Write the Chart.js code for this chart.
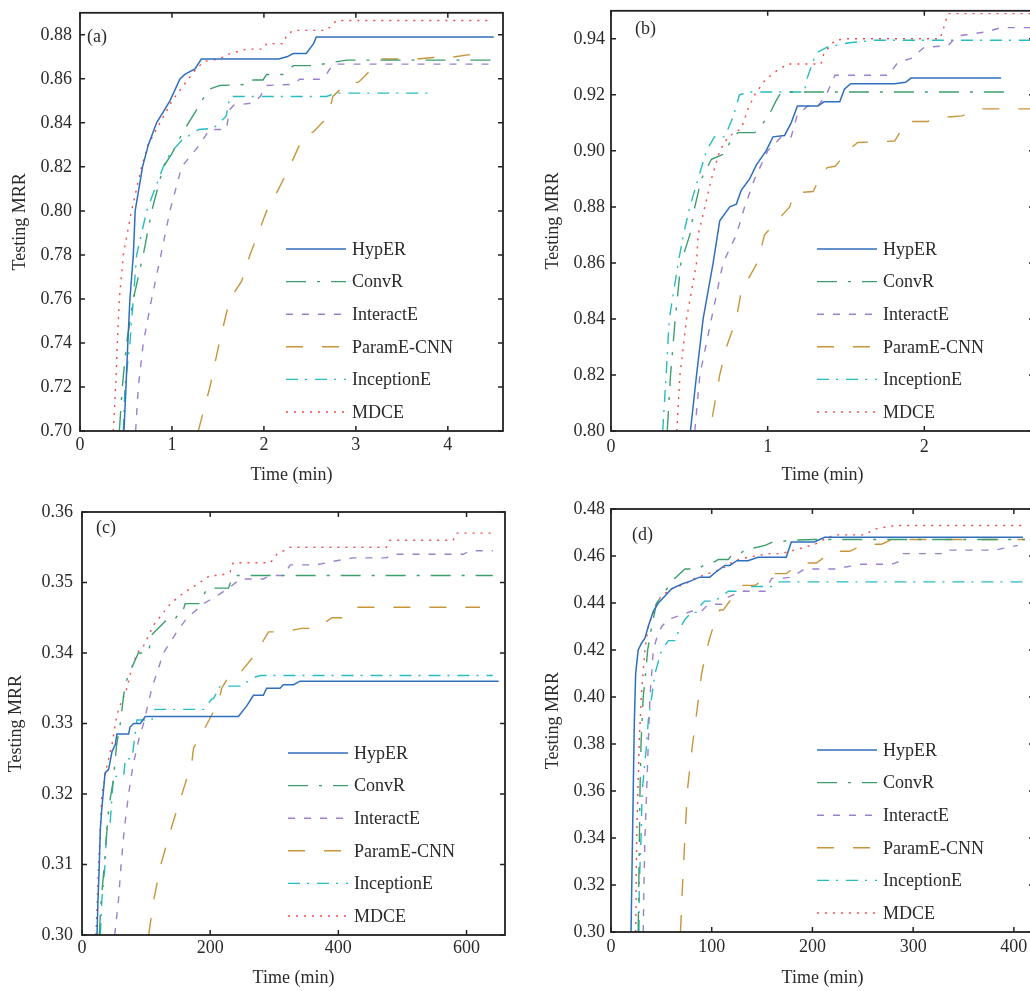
<!DOCTYPE html>
<html>
<head>
<meta charset="utf-8">
<script src="https://cdn.jsdelivr.net/npm/chart.js@4.4.0/dist/chart.umd.min.js"></script>
<style>
html, body { margin: 0; padding: 0; background: #fff; }
body { position: relative; width: 1030px; height: 991px; overflow: hidden; }
.panel { position: absolute; }
</style>
</head>
<body>
<div class="panel" style="left:0px;top:-6px"><canvas id="chartA" width="515" height="496"></canvas></div>
<div class="panel" style="left:531px;top:-6px"><canvas id="chartB" width="515" height="496"></canvas></div>
<div class="panel" style="left:2px;top:490px"><canvas id="chartC" width="515" height="501"></canvas></div>
<div class="panel" style="left:531px;top:490px"><canvas id="chartD" width="515" height="501"></canvas></div>
<script>
'use strict';

var seriesNames = ['HypER', 'ConvR', 'InteractE', 'ParamE-CNN', 'InceptionE', 'MDCE'];
var panelTags = ['(a)', '(b)', '(c)', '(d)'];
var xTitle = 'Time (min)';
var yTitle = 'Testing MRR';

// (a) [time, MRR]
var hyperA = [[0.478,0.70],[0.50,0.72],[0.52,0.74],[0.543,0.76],[0.58,0.78],[0.60,0.80],[0.68,0.82],[0.743,0.83],[0.833,0.84],[0.978,0.85],[1.087,0.86],[1.14,0.862],[1.25,0.8645],[1.32,0.869],[2.16,0.869],[2.25,0.870],[2.32,0.8715],[2.46,0.8715],[2.54,0.876],[2.57,0.879],[4.5,0.879]];
var convrA = [[0.428,0.70],[0.46,0.72],[0.507,0.74],[0.58,0.76],[0.688,0.78],[0.78,0.80],[0.906,0.82],[1.0,0.826],[1.07,0.832],[1.18,0.84],[1.30,0.848],[1.39,0.855],[1.52,0.857],[1.85,0.8575],[1.88,0.8595],[1.99,0.8595],[2.03,0.862],[2.21,0.862],[2.32,0.866],[2.54,0.866],[2.75,0.8675],[2.9,0.8685],[4.49,0.8685]];
var interactA = [[0.605,0.70],[0.634,0.72],[0.688,0.74],[0.779,0.76],[0.88,0.78],[0.978,0.80],[1.105,0.82],[1.30,0.83],[1.41,0.837],[1.59,0.837],[1.63,0.846],[1.67,0.848],[1.88,0.849],[1.96,0.852],[2.03,0.857],[2.32,0.8575],[2.39,0.8598],[2.61,0.8598],[2.68,0.862],[2.75,0.8667],[4.49,0.8667]];
var paramA = [[1.286,0.70],[1.413,0.72],[1.514,0.74],[1.63,0.76],[1.757,0.768],[1.848,0.78],[2.03,0.80],[2.16,0.81],[2.28,0.82],[2.43,0.834],[2.54,0.836],[2.70,0.843],[2.75,0.852],[2.90,0.858],[3.03,0.8585],[3.21,0.866],[3.26,0.869],[3.66,0.869],[3.84,0.8697],[4.02,0.8697],[4.24,0.871],[4.42,0.871]];
var inceptionA = [[0.471,0.70],[0.489,0.72],[0.543,0.74],[0.58,0.76],[0.616,0.78],[0.725,0.80],[0.815,0.81],[0.906,0.82],[0.978,0.826],[1.105,0.832],[1.29,0.837],[1.45,0.8375],[1.59,0.843],[1.63,0.852],[2.68,0.852],[2.79,0.8535],[3.82,0.8535]];
var mdceA = [[0.362,0.70],[0.388,0.72],[0.406,0.74],[0.428,0.76],[0.471,0.78],[0.56,0.80],[0.67,0.82],[0.74,0.83],[0.87,0.84],[1.0,0.85],[1.18,0.86],[1.27,0.865],[1.36,0.868],[1.52,0.869],[1.59,0.871],[1.81,0.8735],[1.99,0.8735],[2.03,0.876],[2.21,0.876],[2.25,0.880],[2.32,0.882],[2.68,0.882],[2.79,0.8865],[4.46,0.8865]];

// (b)
var hyperB = [[0.507,0.80],[0.546,0.82],[0.588,0.84],[0.62,0.85],[0.652,0.86],[0.694,0.875],[0.758,0.880],[0.80,0.881],[0.832,0.886],[0.885,0.890],[0.928,0.895],[0.99,0.900],[1.034,0.905],[1.108,0.9055],[1.15,0.910],[1.19,0.916],[1.32,0.916],[1.36,0.9175],[1.46,0.9175],[1.49,0.922],[1.53,0.924],[1.81,0.924],[1.88,0.9245],[1.915,0.926],[2.49,0.926]];
var convrB = [[0.359,0.80],[0.38,0.82],[0.41,0.84],[0.446,0.86],[0.503,0.87],[0.535,0.88],[0.577,0.89],[0.641,0.897],[0.726,0.899],[0.758,0.903],[0.81,0.9065],[0.917,0.9065],[0.96,0.909],[1.01,0.913],[1.055,0.918],[1.087,0.921],[2.57,0.921]];
var interactB = [[0.535,0.80],[0.567,0.82],[0.641,0.84],[0.715,0.86],[0.80,0.87],[0.853,0.88],[0.917,0.89],[1.0,0.90],[1.087,0.905],[1.15,0.905],[1.19,0.913],[1.257,0.916],[1.32,0.916],[1.374,0.920],[1.43,0.927],[1.77,0.927],[1.83,0.9315],[1.915,0.933],[2.0,0.937],[2.15,0.9375],[2.21,0.941],[2.40,0.9425],[2.49,0.944],[2.7,0.944]];
var paramB = [[0.647,0.805],[0.694,0.82],[0.737,0.83],[0.80,0.84],[0.832,0.85],[0.934,0.86],[0.98,0.87],[1.14,0.88],[1.17,0.885],[1.29,0.8855],[1.33,0.89],[1.38,0.894],[1.43,0.8945],[1.47,0.897],[1.51,0.900],[1.575,0.903],[1.81,0.9035],[1.86,0.908],[1.89,0.9105],[2.02,0.9105],[2.13,0.912],[2.24,0.9125],[2.36,0.915],[2.7,0.915]];
var inceptionB = [[0.33,0.80],[0.352,0.82],[0.372,0.84],[0.429,0.86],[0.462,0.87],[0.503,0.88],[0.556,0.89],[0.609,0.90],[0.66,0.905],[0.726,0.905],[0.779,0.912],[0.82,0.92],[0.875,0.921],[1.236,0.921],[1.246,0.925],[1.31,0.935],[1.38,0.937],[1.51,0.9385],[1.68,0.9395],[2.7,0.9395]];
var mdceB = [[0.42,0.80],[0.44,0.82],[0.482,0.84],[0.546,0.86],[0.556,0.87],[0.599,0.88],[0.641,0.89],[0.694,0.90],[0.747,0.905],[0.832,0.908],[0.875,0.915],[0.917,0.92],[0.98,0.925],[1.066,0.929],[1.13,0.931],[1.34,0.931],[1.36,0.935],[1.43,0.9395],[1.51,0.940],[2.10,0.940],[2.13,0.945],[2.15,0.949],[2.7,0.949]];

// (c)
var hyperC = [[23.4,0.30],[25,0.305],[27,0.31],[28.6,0.315],[31,0.318],[36,0.323],[41.6,0.3235],[46.8,0.326],[52,0.327],[54.5,0.3285],[72.7,0.3285],[75,0.3295],[80.5,0.330],[91,0.330],[98.7,0.331],[244,0.331],[257,0.3325],[267.5,0.334],[283,0.334],[288,0.335],[309,0.335],[314,0.3355],[330,0.3355],[340,0.336],[650,0.336]];
var convrC = [[27,0.30],[30,0.305],[35,0.31],[41.6,0.318],[49,0.322],[54,0.327],[59.7,0.33],[65,0.334],[69,0.336],[78,0.338],[88,0.34],[104,0.34],[108,0.3425],[130,0.3445],[143,0.3445],[150,0.3455],[156,0.3455],[161,0.347],[184,0.347],[195,0.3492],[228.5,0.3492],[236,0.351],[641,0.351]];
var interactC = [[51,0.30],[57,0.305],[61,0.31],[66,0.315],[72.7,0.32],[79.5,0.324],[88,0.3275],[96,0.33],[109,0.335],[127,0.34],[148,0.343],[164,0.345],[190,0.347],[226,0.349],[247,0.3505],[283,0.3505],[293.5,0.351],[314,0.351],[325,0.3525],[366,0.3525],[392,0.353],[423,0.3535],[475,0.3535],[486,0.354],[595,0.354],[605,0.3545],[641,0.3545]];
var paramC = [[104,0.30],[112,0.305],[123,0.31],[142,0.316],[156,0.32],[171.4,0.3245],[174,0.3265],[189.6,0.329],[213,0.333],[218,0.335],[231,0.337],[247,0.3372],[267.5,0.3395],[278,0.341],[291,0.343],[314,0.343],[343,0.3435],[366,0.3435],[390,0.345],[408,0.345],[428.6,0.3465],[621,0.3465]];
var inceptionC = [[28.6,0.30],[31,0.305],[36,0.31],[39,0.316],[44,0.316],[49,0.3225],[65,0.3225],[67.5,0.325],[78,0.325],[85.7,0.3305],[109,0.3305],[114,0.332],[190,0.332],[202.6,0.3335],[205,0.3335],[215.6,0.3353],[247,0.3353],[267.5,0.3365],[278,0.3368],[641,0.3368]];
var mdceC = [[21.8,0.30],[26,0.31],[31,0.32],[39,0.324],[46.8,0.327],[52,0.33],[57,0.332],[70,0.335],[78,0.338],[86,0.340],[96,0.341],[112,0.344],[138,0.347],[158,0.3485],[184,0.350],[200,0.351],[216,0.351],[231,0.3515],[236,0.3528],[294,0.3528],[304,0.354],[325,0.355],[475,0.355],[480.5,0.356],[579,0.356],[584,0.357],[641,0.357]];

// (d)
var hyperD = [[19.9,0.30],[22.8,0.38],[23.2,0.39],[24.5,0.41],[27,0.42],[30.4,0.423],[33.7,0.425],[37,0.43],[42,0.4365],[47,0.44],[53.6,0.443],[60,0.446],[70,0.448],[80,0.4495],[88,0.451],[98,0.451],[105,0.4535],[113,0.456],[118,0.456],[125,0.458],[136,0.458],[146,0.4595],[174,0.4595],[179,0.466],[202,0.466],[212,0.468],[409,0.468]];
var convrD = [[27,0.30],[28.8,0.36],[29.8,0.38],[32,0.40],[34.4,0.41],[36.4,0.42],[40.4,0.43],[45.3,0.44],[53.6,0.445],[63.5,0.4505],[73.4,0.4545],[86.7,0.4545],[90,0.4555],[98,0.4575],[103,0.4575],[106.5,0.4585],[116.5,0.4585],[120,0.4605],[129.7,0.4615],[136,0.4635],[143,0.4635],[153,0.4645],[161,0.466],[169,0.466],[176,0.4667],[202.5,0.467],[411,0.467]];
var interactD = [[32,0.30],[32.7,0.32],[33.7,0.34],[35.4,0.36],[37,0.38],[38.7,0.40],[40.4,0.41],[42,0.42],[45.3,0.425],[50.3,0.43],[57,0.433],[70,0.435],[80,0.4365],[90,0.4365],[96.6,0.4395],[110,0.4395],[116.5,0.4425],[129.7,0.445],[153,0.445],[159.5,0.4505],[169,0.4505],[179,0.451],[192.5,0.4545],[222,0.4545],[229,0.455],[249,0.4565],[278.6,0.4565],[285,0.4575],[290,0.461],[331.5,0.461],[335,0.4625],[381,0.4625],[404,0.4645]];
var paramD = [[69,0.30],[71,0.32],[73.4,0.34],[75.8,0.36],[81,0.38],[85,0.393],[90,0.41],[95,0.42],[98,0.425],[101.6,0.43],[108,0.437],[111.5,0.437],[116.5,0.44],[126,0.445],[131,0.4475],[143,0.4475],[161,0.4525],[174,0.4525],[184,0.4555],[191,0.457],[204,0.457],[215,0.4605],[222,0.462],[237,0.462],[252,0.465],[268.6,0.465],[278.6,0.467],[411,0.467]];
var inceptionD = [[27.8,0.30],[28.1,0.32],[29.8,0.34],[31,0.36],[35.4,0.38],[37,0.39],[40.4,0.40],[43.7,0.41],[50.3,0.42],[57,0.424],[63.5,0.424],[67,0.428],[73.4,0.433],[80,0.436],[85,0.436],[90,0.4395],[93,0.4408],[103,0.4408],[110,0.443],[116.5,0.445],[133,0.445],[136,0.447],[159.5,0.447],[166,0.449],[411,0.449]];
var mdceD = [[24.5,0.30],[25.5,0.34],[28,0.38],[30,0.40],[33.7,0.42],[37,0.43],[45.3,0.44],[50,0.443],[60,0.446],[73.4,0.448],[83,0.4505],[96.6,0.4525],[110,0.4545],[123,0.458],[136,0.4595],[156,0.461],[169,0.461],[186,0.463],[202.5,0.465],[209,0.4665],[216,0.468],[222,0.469],[252,0.469],[262,0.4715],[282,0.473],[411,0.473]];

var seriesColors = ['#2f6fbe', '#3c9f6b', '#9b80cf', '#c8953b', '#26bcc0', '#f04a4c'];
var seriesDash = [[], [20, 11, 3, 11], [7, 9], [17, 19], [12, 7, 2, 8], [2, 6]];

var textColor = '#2a2a2a';
var fontFamily = "'Liberation Serif', 'Times New Roman', serif";
Chart.defaults.font.family = fontFamily;
Chart.defaults.font.size = 18;
Chart.defaults.color = textColor;

// box frame with inward ticks, legend inside plot, panel tag
var framePlugin = {
    id: 'frame',
    afterDatasetsDraw: function(chart) {
        var ctx = chart.ctx;
        var a = chart.chartArea;
        var opts = chart.options.plugins.frame;
        ctx.save();
        ctx.strokeStyle = '#222';
        ctx.lineWidth = 1.8;
        ctx.setLineDash([]);
        ctx.strokeRect(a.left, a.top, a.right - a.left, a.bottom - a.top);
        ctx.lineWidth = 1.5;
        var xs = chart.scales.x, ys = chart.scales.y;
        xs.ticks.forEach(function(t) {
            var px = xs.getPixelForValue(t.value);
            ctx.beginPath();
            ctx.moveTo(px, a.bottom); ctx.lineTo(px, a.bottom - 5);
            ctx.moveTo(px, a.top); ctx.lineTo(px, a.top + 5);
            ctx.stroke();
        });
        ys.ticks.forEach(function(t) {
            var py = ys.getPixelForValue(t.value);
            ctx.beginPath();
            ctx.moveTo(a.left, py); ctx.lineTo(a.left + 5, py);
            ctx.moveTo(a.right, py); ctx.lineTo(a.right - 5, py);
            ctx.stroke();
        });

        // legend
        ctx.font = '18px ' + fontFamily;
        ctx.fillStyle = textColor;
        ctx.textBaseline = 'middle';
        ctx.textAlign = 'left';
        var n = chart.data.datasets.length;
        chart.data.datasets.forEach(function(ds, i) {
            var y = a.bottom - opts.legendBottom - (n - 1 - i) * 32.6;
            var x0 = a.left + opts.legendLeft;
            ctx.strokeStyle = ds.borderColor;
            ctx.lineWidth = ds.borderWidth;
            ctx.setLineDash(ds.borderDash);
            ctx.beginPath();
            ctx.moveTo(x0, y); ctx.lineTo(x0 + 60, y);
            ctx.stroke();
            ctx.fillText(ds.label, x0 + 66, y + 1);
        });

        ctx.fillText(opts.tag, a.left + opts.tagX, a.top + opts.tagY);
        ctx.restore();
    }
};

function makePanel(canvasId, tag, series, p) {
    var datasets = series.map(function(pts, i) {
        return {
            label: seriesNames[i],
            data: pts.map(function(q) { return {x: q[0], y: q[1]}; }),
            borderColor: seriesColors[i],
            borderWidth: i === 0 ? 1.5 : 1.4,
            borderDash: seriesDash[i],
            pointRadius: 0,
            fill: false,
            tension: 0
        };
    });
    return new Chart(document.getElementById(canvasId), {
        type: 'line',
        data: {datasets: datasets},
        options: {
            responsive: false,
            animation: false,
            events: [],
            layout: {padding: {top: p.padTop, right: 12, left: 0, bottom: 0}},
            plugins: {
                legend: {display: false},
                tooltip: {enabled: false},
                frame: {tag: tag, tagX: p.tagX, tagY: p.tagY, legendLeft: 206, legendBottom: 19}
            },
            scales: {
                x: {
                    type: 'linear',
                    min: 0,
                    max: p.xMax,
                    grid: {display: false, drawTicks: false},
                    border: {display: false},
                    ticks: {stepSize: p.xStep, includeBounds: false, padding: p.xPad, maxRotation: 0,
                        font: {size: 18}, color: textColor},
                    title: {display: true, text: xTitle, font: {size: 18}, color: textColor,
                        padding: {top: 0, bottom: p.xTitlePad}},
                    afterFit: function(s) { s.height = p.xh; }
                },
                y: {
                    min: p.yMin,
                    max: p.yMax,
                    grid: {display: false, drawTicks: false},
                    border: {display: false},
                    ticks: {stepSize: p.yStep, includeBounds: false, padding: p.yPad,
                        font: {size: 18}, color: textColor,
                        callback: function(v) { return v.toFixed(2); }},
                    title: {display: true, text: yTitle, font: {size: 18}, color: textColor,
                        padding: {top: p.yTitlePad, bottom: 0}},
                    afterFit: function(s) { s.width = 80; }
                }
            }
        },
        plugins: [framePlugin]
    });
}

makePanel('chartA', panelTags[0], [hyperA, convrA, interactA, paramA, inceptionA, mdceA],
    {padTop: 14, xh: 59, xMax: 4.6, xStep: 1, yMin: 0.70, yMax: 0.89, yStep: 0.02,
     xPad: 3, yPad: 8, xTitlePad: 4, yTitlePad: 9, tagX: 7, tagY: 24});
makePanel('chartB', panelTags[1], [hyperB, convrB, interactB, paramB, inceptionB, mdceB],
    {padTop: 14, xh: 59, xMax: 2.7, xStep: 1, yMin: 0.80, yMax: 0.95, yStep: 0.02,
     xPad: 5, yPad: 6, xTitlePad: 4, yTitlePad: 11, tagX: 24, tagY: 18});
makePanel('chartC', panelTags[2], [hyperC, convrC, interactC, paramC, inceptionC, mdceC],
    {padTop: 22, xh: 56, xMax: 660, xStep: 200, yMin: 0.30, yMax: 0.36, yStep: 0.01,
     xPad: 2, yPad: 9, xTitlePad: 2, yTitlePad: 3, tagX: 14, tagY: 16});
makePanel('chartD', panelTags[3], [hyperD, convrD, interactD, paramD, inceptionD, mdceD],
    {padTop: 19, xh: 59, xMax: 420, xStep: 100, yMin: 0.30, yMax: 0.48, yStep: 0.02,
     xPad: 4, yPad: 6, xTitlePad: 2, yTitlePad: 11, tagX: 21, tagY: 26});
</script>
</body>
</html>
